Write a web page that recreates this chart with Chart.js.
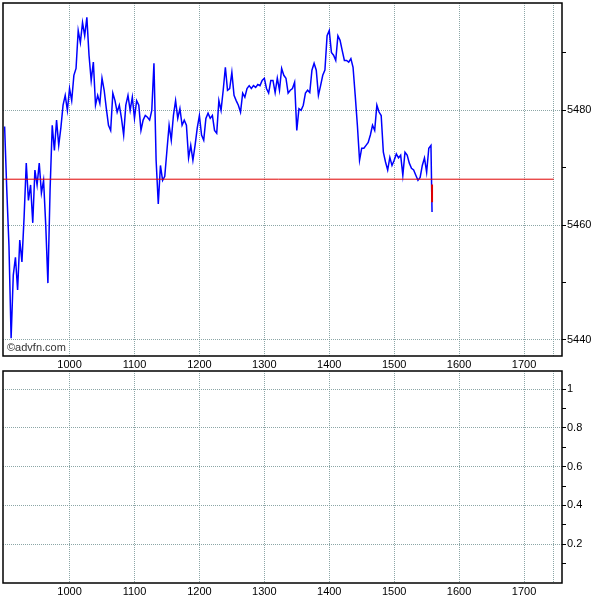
<!DOCTYPE html>
<html>
<head>
<meta charset="utf-8">
<script src="https://cdn.jsdelivr.net/npm/chart.js@4"></script>
<style>
body{margin:0;background:#fff;}
#wrap{position:relative;width:600px;height:600px;}
#priceChart{position:absolute;left:0;top:0;}
#volChart{position:absolute;left:0;top:370px;}
</style>
</head>
<body>
<div id="wrap">
<canvas id="priceChart" width="600" height="370"></canvas>
<canvas id="volChart" width="600" height="230"></canvas>
</div>
<script>
// times in minutes after midnight (540 = 09:00)
const times = [
540,542,544,546,548,550,552,554,556,558,
560,562,564,566,568,570,572,574,576,578,
580,582,584,586,588,590,592,594,596,598,
600,602,604,606,608,610,612,614,616,618,
620,622,624,626,628,630,632,634,636,638,
640,642,644,646,648,650,652,654,656,658,
660,662,664,666,668,670,672,674,676,678,
680,682,684,686,688,690,692,694,696,698,
700,702,704,706,708,710,712,714,716,718,
720,722,724,726,728,730,732,734,736,738,
740,742,744,746,748,750,752,754,756,758,
760,762,764,766,768,770,772,774,776,778,
780,782,784,786,788,790,792,794,796,798,
800,802,804,806,808,810,812,814,816,818,
820,822,824,826,828,830,832,834,836,838,
840,842,844,846,848,850,852,854,856,858,
860,862,864,866,868,870,872,874,876,878,
880,882,884,886,888,890,892,894,896,898,
900,902,904,906,908,910,912,914,916,918,
920,922,924,926,928,930,932,934,935
];

const prices = [
5477.2,5466.1,5456.5,5440.3,5451.3,5454.4,5448.7,5457.4,5453.6,5461.4,
5470.8,5464.3,5467.0,5460.4,5469.6,5467.0,5470.8,5465.6,5467.8,5460.0,
5449.9,5466.1,5477.4,5473.0,5478.3,5473.9,5477.0,5480.9,5482.6,5480.0,
5483.8,5481.7,5486.1,5487.3,5493.9,5491.8,5495.3,5493.0,5496.2,5489.6,
5485.2,5488.4,5480.9,5482.6,5481.2,5485.6,5483.5,5480.3,5477.4,5476.5,
5483.0,5481.7,5479.7,5480.9,5478.6,5475.7,5480.9,5482.6,5480.0,5482.3,
5478.6,5481.7,5480.9,5476.5,5478.3,5479.1,5478.8,5478.3,5480.0,5488.2,
5471.3,5463.7,5470.4,5467.8,5468.5,5473.0,5477.4,5474.8,5479.1,5481.7,
5478.6,5480.3,5477.4,5478.3,5477.4,5471.7,5473.9,5471.3,5473.9,5476.9,
5479.1,5475.7,5474.8,5478.6,5479.5,5478.6,5479.1,5476.5,5476.0,5481.7,
5480.0,5483.5,5487.5,5483.5,5483.8,5486.6,5482.6,5481.7,5480.9,5479.7,
5483.0,5482.3,5483.8,5484.3,5483.8,5484.3,5484.0,5484.5,5484.3,5485.2,
5485.6,5483.8,5483.0,5485.2,5485.2,5483.1,5485.6,5483.5,5487.3,5486.1,
5485.6,5483.0,5483.5,5483.8,5484.9,5476.5,5480.3,5480.0,5480.9,5483.0,
5483.5,5483.1,5487.0,5488.2,5487.0,5482.6,5484.3,5486.1,5487.0,5493.0,
5493.9,5490.1,5489.6,5488.7,5493.0,5492.2,5490.4,5488.7,5488.7,5488.4,
5489.0,5487.5,5482.6,5477.4,5471.3,5473.4,5473.4,5473.9,5474.4,5475.7,
5477.4,5476.5,5480.9,5479.7,5479.1,5472.7,5471.0,5469.6,5471.8,5470.4,
5471.3,5472.4,5471.7,5472.2,5468.7,5472.7,5472.2,5470.8,5469.9,5469.6,
5468.7,5467.8,5468.3,5470.4,5471.7,5469.2,5473.4,5473.9,5462.3
];

const prevClose = 5468;
const lastBarTime = 935;
const lastBar = [5467.1, 5464.0];

const hourTicks = [600,660,720,780,840,900,960,1020];
const sessionEnd = 1047.5;
const priceTicks = [5440,5450,5460,5470,5480,5490];
const priceLabels = [5440,5460,5480];
const lowerTicks = [0.1,0.2,0.3,0.4,0.5,0.6,0.7,0.8,0.9,1];
const lowerLabels = [0.2,0.4,0.6,0.8,1];

const xMin = 538.5, xMax = 1055.1;
const gridCol = "rgba(120,150,150,0.85)";
const font = {family:"Liberation Sans", size:11};

const framePlugin = {
  id:"frame",
  afterDraw(chart, args, opts){
    const a = chart.chartArea, c = chart.ctx;
    c.save();
    c.strokeStyle = "#000";
    c.lineWidth = 1.5;
    c.strokeRect(a.left, a.top, a.right-a.left, a.bottom-a.top);
    if(opts.credit){
      c.fillStyle = "#fff";
      c.fillRect(a.left+1, a.bottom-16, 64, 15);
      c.fillStyle = "#333";
      c.font = "11px 'Liberation Sans'";
      c.textBaseline = "middle";
      c.fillText(opts.credit, a.left+4, a.bottom-8);
    }
    c.restore();
  }
};

function xAxis(){
  return {
    type:"linear", min:xMin, max:xMax,
    afterBuildTicks(s){ s.ticks = hourTicks.concat([sessionEnd]).map(v=>({value:v})); },
    afterFit(s){
      s.height = s.chart.canvas.id==="priceChart" ? 14 : 17;
      s.paddingLeft = 0; s.paddingRight = 0;
    },
    ticks:{ color:"#000", font:font, padding:2, autoSkip:false, maxRotation:0,
      callback:v => v===sessionEnd ? "" : String(v/60*100) },
    grid:{ color:gridCol, drawTicks:false },
    border:{ display:false, dash:[1,1] }
  };
}

function yAxis(min, max, tickVals, labelVals){
  return {
    type:"linear", position:"right", min:min, max:max,
    afterBuildTicks(s){ s.ticks = tickVals.map(v=>({value:v})); },
    afterFit(s){ s.width = 38; s.paddingTop = 0; s.paddingBottom = 0; },
    ticks:{ color:"#000", font:font, padding:1, autoSkip:false,
      callback:v => labelVals.includes(v) ? String(v) : "" },
    grid:{
      color:c => labelVals.includes(c.tick && c.tick.value) ? gridCol : "rgba(0,0,0,0)",
      tickColor:"#000", tickLength:4, tickBorderDash:[], tickWidth:1
    },
    border:{ display:false, dash:[1,1] }
  };
}

new Chart(document.getElementById("priceChart"),{
  type:"line",
  data:{
    datasets:[
      { data:[{x:xMin,y:prevClose},{x:sessionEnd,y:prevClose}],
        borderColor:"#e00000", borderWidth:1, pointRadius:0 },
      { data:lastBar.map(v=>({x:lastBarTime,y:v})),
        borderColor:"#e00000", borderWidth:2, pointRadius:0 },
      { data:times.map((t,i)=>({x:t,y:prices[i]})),
        borderColor:"#0000ff", borderWidth:1.5, pointRadius:0, tension:0 }
    ]
  },
  options:{
    responsive:false, animation:false,
    layout:{ padding:{left:3, top:3, right:0, bottom:0} },
    plugins:{ legend:{display:false}, tooltip:{enabled:false}, frame:{credit:"\u00a9advfn.com"} },
    scales:{ x:xAxis(), y:yAxis(5437.2, 5498.7, priceTicks, priceLabels) }
  },
  plugins:[framePlugin]
});

new Chart(document.getElementById("volChart"),{
  type:"line",
  data:{ datasets:[{ data:[], pointRadius:0 }] },
  options:{
    responsive:false, animation:false,
    layout:{ padding:{left:3, top:1, right:0, bottom:0} },
    plugins:{ legend:{display:false}, tooltip:{enabled:false}, frame:{} },
    scales:{ x:xAxis(), y:yAxis(0, 1.093, lowerTicks, lowerLabels) }
  },
  plugins:[framePlugin]
});
</script>
</body>
</html>
